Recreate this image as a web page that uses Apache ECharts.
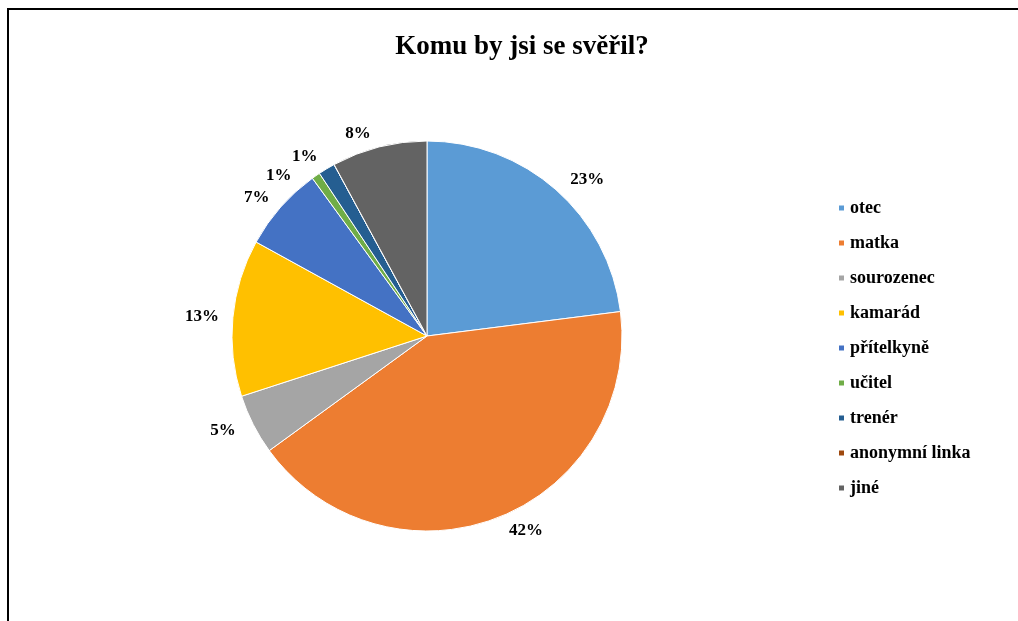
<!DOCTYPE html>
<html>
<head>
<meta charset="utf-8">
<script src="https://cdn.jsdelivr.net/npm/echarts@6/dist/echarts.min.js"></script>
<style>
  html, body { margin: 0; padding: 0; background: #fff; }
  #frame { position: absolute; left: 7px; top: 8px; width: 1030px; height: 640px;
           border-left: 2px solid #000; border-top: 2px solid #000; }
  #chart { position: absolute; left: 0; top: 0; width: 1018px; height: 621px; }
</style>
</head>
<body>
<div id="frame"></div>
<div id="chart"></div>
<script>
const titleText = 'Komu by jsi se svěřil?';
const categories = ['otec', 'matka', 'sourozenec', 'kamarád', 'přítelkyně', 'učitel', 'trenér', 'anonymní linka', 'jiné'];
const values = [23, 42, 5, 13, 7, 0.7, 1.4, 0, 7.9];
const colors = ['#5B9BD5', '#ED7D31', '#A5A5A5', '#FFC000', '#4472C4', '#70AD47', '#255E91', '#9E480E', '#636363'];

const chart = echarts.init(document.getElementById('chart'), null, { renderer: 'canvas' });
const serif = '"Liberation Serif", "DejaVu Serif", serif';
chart.setOption({
  animation: false,
  color: colors,
  title: {
    text: titleText,
    left: 517, top: 29, textAlign: 'center',
    textStyle: { fontFamily: serif, fontWeight: 'bold', fontSize: 27, color: '#000' }
  },
  legend: {
    orient: 'vertical',
    left: 832, top: 194,
    itemWidth: 7, itemHeight: 7, itemGap: 17,
    icon: 'rect',
    data: categories,
    textStyle: { fontFamily: serif, fontWeight: 'bold', fontSize: 18, color: '#000' }
  },
  series: [{
    type: 'pie',
    center: [427, 336],
    radius: [0, 195],
    startAngle: 90,
    clockwise: true,
    percentPrecision: 0,
    minShowLabelAngle: 0.5,
    itemStyle: { borderColor: '#fff', borderWidth: 1 },
    label: {
      show: true,
      position: 'outside',
      formatter: '{d}%',
      fontFamily: serif, fontWeight: 'bold', fontSize: 17, color: '#000'
    },
    labelLine: { show: false, length: 14, length2: 0 },
    data: categories.map((n, i) => ({ name: n, value: values[i] }))
  }]
});
</script>
</body>
</html>
